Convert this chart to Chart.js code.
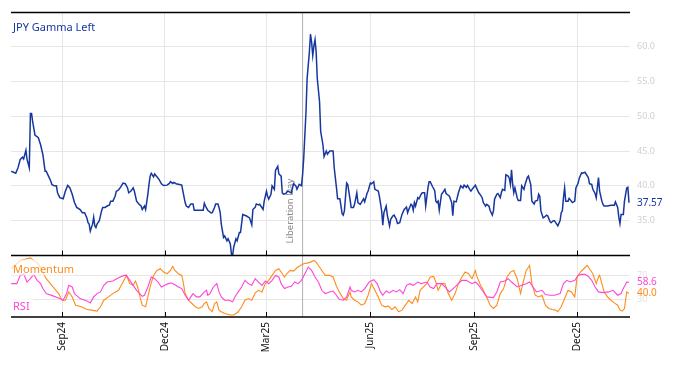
<!DOCTYPE html>
<html>
<head>
<meta charset="utf-8">
<script src="https://cdn.jsdelivr.net/npm/chart.js@4"></script>
<style>
  html, body { margin: 0; padding: 0; background: #fff; }
  canvas { display: block; }
</style>
</head>
<body>
<canvas id="grafico" width="674" height="366"></canvas>
<script>
// x values are days since 2024-07-01
const tickDays = [62, 153, 243, 335, 427, 518];
const tickLabels = ['Sep24', 'Dec24', 'Mar25', 'Jun25', 'Sep25', 'Dec25'];
const liberationDay = 275; // 2025-04-02

const gammaDays = [17,21,23,25,27,28,30,31,33,34,35,36,38,41,43,45,47,48,50,52,53,55,57,58,60,63,65,67,69,71,73,75,78,80,82,84,85,86,87,89,90,91,92,93,95,97,98,100,102,104,105,107,109,110,112,114,116,118,120,121,123,125,126,128,130,132,133,135,136,138,139,140,141,143,144,146,148,150,152,155,157,158,160,161,163,166,168,169,171,172,174,176,178,179,182,185,187,188,189,191,194,195,197,198,200,201,202,203,205,206,208,209,211,212,213,214,216,217,219,220,222,223,225,228,230,231,233,234,236,237,240,241,243,244,245,247,248,250,251,253,254,256,257,258,260,262,265,267,269,270,272,274,275,276,278,279,281,282,283,284,285,286,287,288,290,291,293,294,296,297,299,302,303,305,306,308,310,311,312,314,315,317,318,320,321,323,324,326,327,329,330,332,333,335,336,338,339,342,343,345,346,347,349,350,352,353,355,356,358,359,361,363,365,367,368,369,371,372,373,374,375,377,378,380,381,383,384,386,387,388,390,392,393,394,395,396,398,399,401,402,404,405,407,408,409,411,413,414,415,417,418,420,421,423,424,426,428,429,431,432,434,435,437,438,440,441,443,444,445,447,448,450,451,452,454,455,457,458,459,460,461,462,463,465,466,468,469,471,472,474,475,477,478,480,481,483,484,485,486,488,489,491,492,494,495,497,498,500,501,503,504,505,506,507,508,510,511,513,514,516,517,519,520,522,523,525,526,528,529,531,532,534,535,536,537,538,540,541,542,545,548,551,552,554,555,556,557,559,560,562,563,564];
const gammaValues = [42.1,41.8,42.6,43.8,44.1,43.85,45.1,43.8,42.6,50.4,50.4,49.2,47.3,46.9,45.9,44.5,42.1,42.1,41.4,40.7,40.2,40.0,40.0,39.0,38.3,38.15,39.25,40.05,39.7,38.8,37.6,36.9,36.6,36.15,36.15,35.4,34.7,34.5,33.5,34.5,35.5,34.25,34.0,34.5,35.0,36.4,36.9,36.9,37.1,37.25,37.8,37.8,38.5,39.2,39.4,39.85,40.4,40.3,39.7,39.0,39.25,39.7,39.25,37.8,37.4,37.1,36.6,37.1,36.6,38.8,40.2,41.4,41.8,41.3,41.7,41.3,40.9,40.3,40.05,40.1,40.35,40.6,40.35,40.5,40.3,40.2,40.1,39.25,37.6,37.1,36.9,37.4,37.4,36.5,36.5,36.5,36.5,37.5,37.1,36.5,36.1,36.15,36.9,37.4,37.4,36.9,36.2,34.5,32.6,32.8,32.1,32.4,31.65,30.2,30.0,31.2,32.4,32.1,33.3,33.3,35.9,35.8,35.7,35.4,34.4,36.6,36.9,37.4,37.25,37.35,36.6,37.8,39.2,38.5,38.1,38.8,40.0,39.5,42.2,42.8,41.7,41.4,39.0,38.8,38.9,39.25,39.0,40.3,40.0,39.5,40.2,40.0,41.6,44.0,50.6,55.4,59.2,61.8,60.6,58.7,60.1,61.0,59.2,55.4,52.1,47.8,45.9,44.2,45.0,44.55,45.0,45.0,42.6,39.7,38.15,38.15,36.0,35.8,36.4,40.4,40.2,38.1,36.9,36.9,37.35,39.0,37.6,37.35,37.6,38.15,37.7,38.9,39.25,40.4,40.3,40.6,39.5,39.25,38.5,36.4,34.35,36.15,37.1,35.8,34.25,35.2,35.7,35.8,35.2,34.6,34.7,35.9,36.6,36.95,36.15,36.6,37.35,37.2,36.5,37.6,37.1,38.3,38.15,38.8,39.0,39.0,37.1,39.7,40.6,40.6,39.9,39.3,37.8,37.6,37.8,36.5,38.8,39.0,39.5,38.9,38.65,38.5,37.6,35.7,37.8,37.7,39.0,39.5,40.0,39.7,40.1,39.8,40.05,39.5,39.25,39.7,40.1,39.7,39.0,38.8,38.3,37.6,37.1,37.35,37.1,36.5,35.8,36.4,38.1,38.8,38.9,38.3,39.0,39.5,39.35,41.6,41.4,41.1,40.2,42.3,40.2,39.0,39.7,38.3,37.9,37.9,40.0,39.5,40.2,41.2,41.4,40.2,37.8,37.4,37.8,37.9,38.8,38.5,36.4,35.4,35.5,35.8,35.7,34.9,34.7,35.0,35.0,34.5,34.25,35.0,36.15,36.4,38.3,39.7,37.8,37.8,38.2,37.8,37.6,37.8,39.7,40.4,41.1,41.85,41.8,41.95,41.7,41.2,40.3,40.2,39.5,38.9,38.3,39.8,41.2,39.25,37.8,37.35,37.1,37.1,37.2,37.2,37.7,36.9,35.5,34.6,35.9,35.9,37.8,39.7,39.8,37.57];

const momentumDays = [17,25,34,41,48,54,59,62,65,68,71,74,79,84,88,93,96,99,103,107,112,116,119,122,125,127,129,131,133,136,138,140,143,146,149,152,155,158,160,162,165,168,169,171,174,177,180,183,186,188,190,192,195,197,199,201,203,206,211,214,216,218,221,224,227,230,233,236,239,242,245,248,251,254,257,259,261,264,267,270,273,276,279,282,285,287,289,292,295,299,302,305,308,311,314,315,317,318,321,324,327,330,333,336,339,342,345,348,351,354,357,360,363,366,369,372,375,377,379,382,385,388,391,393,395,398,401,404,407,410,413,416,419,422,425,428,429,432,435,438,441,444,447,450,453,456,459,462,465,468,470,473,476,478,481,484,487,490,493,496,499,501,504,507,510,513,516,518,521,524,527,529,532,535,537,538,540,542,545,548,551,554,556,558,560,562,564];
const momentumValues = [81,94.7,99,89.2,64.5,50.8,39.8,28.8,28.8,42.6,34.3,20.6,17.9,13.5,12.4,10.7,17.9,28.8,34.3,39.8,45.3,59,70,56.3,53.5,60.7,50.8,34.3,20.6,17.9,34.3,50.8,70,78.2,81,75.5,72.7,78.2,84.8,78.2,72.7,70,61.8,39.8,28.8,23.4,17.9,15.1,17.9,23.4,26.1,15.1,9.6,23.4,26.1,12.4,9.6,6.9,4.2,4.2,6.9,9.6,17.9,28.8,31.6,28.8,40.9,45.3,42.6,56.3,61.8,70,78.2,81,72.7,67.3,72.7,78.2,77.1,82.6,86.5,89.2,90.3,92,94.7,92,86.5,78.2,70,70,67.3,52,41,31.6,28.8,34.3,42.6,34.3,28.8,26.1,20.6,23.4,37.1,56.3,45.3,34.3,20.6,17.9,19,13.5,17.9,9.6,12.4,20.6,28.8,23.4,34.3,26.1,45.3,50.8,56.3,67.3,68.4,59,45.3,56.3,56.3,39.8,28.8,39.8,56.3,67.3,75.5,72.7,64.5,78.2,70,56.3,45.3,34.3,20.6,15.1,20.6,39.8,48.1,67.3,75.5,78.2,64.5,39.8,56.3,78.2,86.5,56.3,37.1,34.3,37.1,20.6,15.1,13.5,12.4,9.6,17.9,31.6,45.3,42.6,34.3,67.3,75.5,81,86.5,81,72.7,56.3,67.3,70,56.3,42.6,34.3,28.8,24.5,20.6,12.4,10.7,15.1,42.6,40.0];

const rsiDays = [17,22,25,28,31,34,37,40,43,45,48,54,60,63,66,68,71,73,78,84,87,90,93,96,99,102,107,112,117,119,122,125,128,133,135,138,141,144,147,150,153,156,159,162,165,168,171,174,176,178,181,184,188,190,191,193,196,199,201,203,206,210,213,215,218,221,224,227,230,233,236,239,242,245,248,251,254,256,259,262,265,268,271,274,277,280,283,286,289,292,295,299,302,305,307,308,311,314,317,318,321,324,327,330,334,338,341,344,346,349,352,355,358,361,364,367,370,373,377,380,385,388,391,394,398,401,405,410,413,416,420,425,428,431,434,438,444,447,450,454,457,460,465,469,473,476,479,482,487,490,494,498,503,506,509,512,516,519,522,525,528,531,534,537,541,546,550,554,557,559,562,564];
const rsiValues = [56.3,56.3,70,72.7,59,64.5,71.6,61.8,56.3,48.1,39.8,36,31.6,28.8,39.8,53.5,50.8,39.8,31.6,27.7,24.4,34.3,39.8,42.6,53.5,59,60.7,66.1,70,70,61.8,53.5,45.3,35.4,37.1,50.8,67.3,64.5,59,50.8,53.5,56.3,57.4,54.6,50.8,48.1,37.1,28.8,34.3,39.8,34.3,34.3,42.6,45.3,37.1,39.8,50.8,56.3,42.6,34.3,28.8,28.8,26.1,34.3,42.6,50.8,61.8,56.3,53.5,64.5,59,53.5,60.7,56.3,61.8,70,67.3,56.3,48.1,50.8,51.9,59,56.3,61.8,72.7,83.7,78.2,67.3,59,45.3,39.8,42.6,44,37.1,31.6,30,28.8,34.3,50.8,45.3,42.6,45.3,42.6,48.1,59,62.9,56.3,42.6,37.1,44.2,40.9,45.3,42.6,46.4,39.8,53.5,56.3,53.5,59,56.3,59,50.8,48.1,56.3,56.3,50.8,42.6,50.8,56.3,61.8,61.8,56.3,59,53.5,45.3,34.3,33.2,42.6,59,60.7,64.5,59,50.8,53.5,56.3,59,50.8,42.6,45.3,38.2,37.1,37.1,39.8,56.3,61.8,59,61.8,70,71.6,71.6,68.4,61.8,50.8,42.6,41.5,42.6,45.3,37.1,39.8,48.1,59,58.6];

const gammaTicks = [35, 40, 45, 50, 55, 60];
const oscTicks = [30, 70];

const BLUE = '#17379f';
const ORANGE = '#ff8c1a';
const MAGENTA = '#ff45d8';
const FONT = '"Noto Sans", "DejaVu Sans", sans-serif';

function pontos(days, values) {
    return days.map((d, i) => ({ x: d, y: values[i] }));
}

const overlay = {
    id: 'overlay',
    beforeDatasetsDraw(chart) {
        const { ctx, chartArea, scales } = chart;
        const lx = scales.x.getPixelForValue(liberationDay);
        ctx.save();
        ctx.strokeStyle = '#b0b0b0';
        ctx.lineWidth = 1;
        ctx.beginPath();
        ctx.moveTo(lx, chartArea.top);
        ctx.lineTo(lx, chartArea.bottom);
        ctx.stroke();
        ctx.translate(lx - 12, scales.y.bottom - 12);
        ctx.rotate(-Math.PI / 2);
        ctx.fillStyle = '#888';
        ctx.font = '9.5px ' + FONT;
        ctx.textAlign = 'left';
        ctx.textBaseline = 'middle';
        ctx.fillText('Liberation Day', 0, 0);
        ctx.restore();
    },
    afterDatasetsDraw(chart) {
        const { ctx, chartArea, scales } = chart;
        const { left, right, top, bottom } = chartArea;
        const sep = scales.y.bottom;
        ctx.save();

        // frame lines
        ctx.strokeStyle = '#000';
        ctx.lineWidth = 1.5;
        [top, sep, bottom].forEach(yy => {
            ctx.beginPath();
            ctx.moveTo(left, yy);
            ctx.lineTo(right, yy);
            ctx.stroke();
        });

        // inward tick marks
        ctx.lineWidth = 1;
        tickDays.forEach(d => {
            const px = Math.round(scales.x.getPixelForValue(d)) + 0.5;
            [sep, bottom].forEach(yy => {
                ctx.beginPath();
                ctx.moveTo(px, yy);
                ctx.lineTo(px, yy - 5);
                ctx.stroke();
            });
        });

        // panel labels
        ctx.textAlign = 'left';
        ctx.textBaseline = 'alphabetic';
        ctx.fillStyle = 'rgba(255,255,255,0.7)';
        ctx.fillRect(left, sep + 4, 64, 16);
        ctx.fillRect(left, scales.y2.bottom - 18, 22, 15);

        ctx.font = '11px ' + FONT;
        ctx.fillStyle = BLUE;
        ctx.fillText('JPY Gamma Left', left + 2, top + 19);
        ctx.fillStyle = ORANGE;
        ctx.fillText('Momentum', left + 2, sep + 17.5);
        ctx.fillStyle = MAGENTA;
        ctx.fillText('RSI', left + 2, scales.y2.bottom - 7);

        // last values on the right
        ctx.font = '10px ' + FONT;
        ctx.textBaseline = 'middle';
        const lx = right + 7;
        ctx.fillStyle = BLUE;
        ctx.fillText(gammaValues[gammaValues.length - 1].toFixed(2), lx, scales.y.getPixelForValue(gammaValues[gammaValues.length - 1]));
        ctx.fillStyle = MAGENTA;
        ctx.fillText(rsiValues[rsiValues.length - 1].toFixed(1), lx, scales.y2.getPixelForValue(rsiValues[rsiValues.length - 1]));
        ctx.fillStyle = ORANGE;
        ctx.fillText(momentumValues[momentumValues.length - 1].toFixed(1), lx, scales.y2.getPixelForValue(momentumValues[momentumValues.length - 1]));
        ctx.restore();
    }
};

const ctx = document.getElementById('grafico').getContext('2d');
new Chart(ctx, {
    type: 'line',
    data: {
        datasets: [
            {
                label: 'JPY Gamma Left',
                data: pontos(gammaDays, gammaValues),
                yAxisID: 'y',
                borderColor: BLUE,
                borderWidth: 1.5,
                pointRadius: 0,
                tension: 0
            },
            {
                label: 'RSI',
                data: pontos(rsiDays, rsiValues),
                yAxisID: 'y2',
                borderColor: MAGENTA,
                borderWidth: 1.1,
                pointRadius: 0,
                tension: 0
            },
            {
                label: 'Momentum',
                data: pontos(momentumDays, momentumValues),
                yAxisID: 'y2',
                borderColor: ORANGE,
                borderWidth: 1.1,
                pointRadius: 0,
                tension: 0
            }
        ]
    },
    options: {
        responsive: false,
        animation: false,
        devicePixelRatio: 1,
        layout: { padding: { left: 11, top: 10, right: 0, bottom: 0 } },
        plugins: { legend: { display: false }, tooltip: { enabled: false } },
        scales: {
            x: {
                type: 'linear',
                min: 16.8,
                max: 564.9,
                afterBuildTicks: s => { s.ticks = tickDays.map(v => ({ value: v })); },
                afterFit: s => { s.height = 49; },
                grid: { color: '#e6e6e6', drawTicks: false },
                border: { display: false },
                ticks: {
                    minRotation: 90,
                    maxRotation: 90,
                    padding: 5,
                    color: '#111',
                    font: { family: FONT, size: 10 },
                    callback: v => tickLabels[tickDays.indexOf(v)]
                }
            },
            y: {
                position: 'right',
                stack: 'painel',
                stackWeight: 245,
                min: 30,
                max: 64.9,
                afterBuildTicks: s => { s.ticks = gammaTicks.map(v => ({ value: v })); },
                afterFit: s => { s.width = 44; },
                grid: { color: '#e6e6e6', drawTicks: false },
                border: { display: false },
                ticks: {
                    padding: 7,
                    color: '#d0d0d0',
                    font: { family: FONT, size: 9 },
                    callback: v => v.toFixed(1)
                }
            },
            y2: {
                position: 'right',
                stack: 'painel',
                stackWeight: 62,
                min: 1,
                max: 103,
                afterBuildTicks: s => { s.ticks = oscTicks.map(v => ({ value: v })); },
                afterFit: s => { s.width = 44; },
                grid: { color: '#e6e6e6', drawTicks: false },
                border: { display: false },
                ticks: {
                    padding: 7,
                    color: '#e2e2e2',
                    font: { family: FONT, size: 9 },
                    callback: v => String(v)
                }
            }
        }
    },
    plugins: [overlay]
});
</script>
</body>
</html>
